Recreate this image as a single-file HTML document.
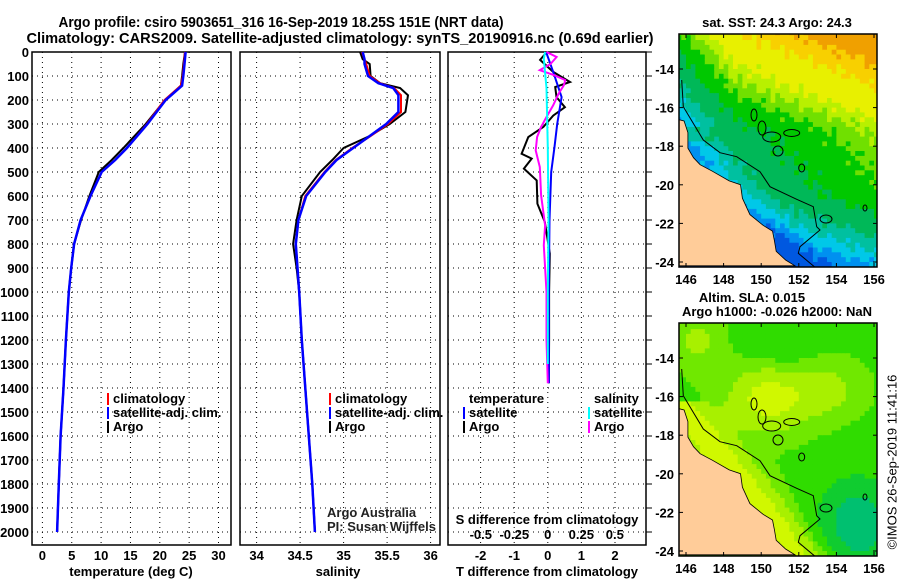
<!DOCTYPE html>
<html><head><meta charset="utf-8">
<style>
html,body{margin:0;padding:0;background:#fff;}
svg{display:block;font-family:"Liberation Sans",sans-serif;}
.t{font-weight:bold;font-size:13px;fill:#000;}
.ti{font-weight:bold;font-size:15px;fill:#000;}
.g{stroke:#000;stroke-width:1;stroke-dasharray:1 4;}
</style></head>
<body>
<svg id="s" width="900" height="580" viewBox="0 0 900 580" xmlns="http://www.w3.org/2000/svg">
<text class="ti" x="281" y="27" text-anchor="middle" textLength="445" lengthAdjust="spacingAndGlyphs">Argo profile: csiro 5903651_316 16-Sep-2019 18.25S 151E (NRT data)</text>
<text class="ti" x="340" y="43" text-anchor="middle" textLength="627" lengthAdjust="spacingAndGlyphs">Climatology: CARS2009. Satellite-adjusted climatology: synTS_20190916.nc (0.69d earlier)</text>
<g id="panels"></g>
<g id="maps"></g>
<text x="893" y="462" font-size="13" transform="rotate(-90 893 462)" text-anchor="middle" dominant-baseline="middle">©IMOS 26-Sep-2019 11:41:16</text>
</svg>
<script>
// ---------- data ----------
const depthTicks = [0,100,200,300,400,500,600,700,800,900,1000,1100,1200,1300,1400,1500,1600,1700,1800,1900,2000];
const tempTicks = [0,5,10,15,20,25,30];
const salTicks = [34,34.5,35,35.5,36];
const salTickLabels = ["34","34.5","35","35.5","36"];
const tdiffTicks = [-2,-1,0,1,2];
const sdiffTicks = [-0.5,-0.25,0,0.25,0.5];
const sdiffTickLabels = ["-0.5","-0.25","0","0.25","0.5"];

const tempDepth = [0,50,100,140,200,300,400,450,500,600,700,800,900,1000,1200,1400,1600,1800,2000];
const tempArgo = [24.3,24.0,23.8,23.6,20.9,17.6,13.8,11.8,9.6,8.0,6.6,5.4,4.9,4.5,4.0,3.6,3.1,2.8,2.5];
const tempClim = [24.3,24.1,23.9,23.6,20.8,17.8,14.4,12.4,10.1,8.2,6.5,5.4,4.9,4.5,4.0,3.6,3.1,2.8,2.5];
const tempSat  = [24.4,24.2,24.0,23.8,21.0,17.9,14.4,12.4,10.1,8.2,6.5,5.4,4.9,4.5,4.0,3.6,3.1,2.8,2.5];

const salDepth = [0,30,50,100,130,150,180,250,300,350,400,450,500,600,700,800,900,1000,1200,1400,1600,1800,2000];
const salArgo = [35.19,35.22,35.30,35.31,35.42,35.65,35.74,35.71,35.53,35.30,35.00,34.87,34.73,34.52,34.46,34.42,34.46,34.49,34.52,34.56,34.60,34.64,34.67];
const salClim = [35.21,35.24,35.26,35.30,35.42,35.58,35.66,35.66,35.51,35.31,35.10,34.91,34.78,34.56,34.48,34.45,34.47,34.49,34.52,34.56,34.60,34.64,34.67];
const salSat  = [35.22,35.24,35.24,35.28,35.40,35.57,35.63,35.63,35.49,35.30,35.11,34.92,34.79,34.57,34.48,34.45,34.47,34.49,34.52,34.56,34.60,34.64,34.67];

const tdArgoDepth = [0,33,83,125,146,188,230,265,312,354,424,444,486,535,632,708,840,1000,1200,1380];
const tdArgo = [-0.03,-0.23,0.16,0.66,0.22,0.26,0.51,0.16,-0.13,-0.58,-0.78,-0.48,-0.71,-0.33,-0.31,-0.09,0.06,0.04,0.04,0.03];
const tdSatDepth = [0,83,188,300,396,500,700,1000,1380];
const tdSat = [-0.05,0.16,0.41,0.28,0.2,0.1,0.05,0.03,0.03];
const sdArgoDepth = [0,21,50,76,97,117,138,174,222,271,312,354,410,479,597,722,805,1000,1200,1380];
const sdArgo = [-0.01,0.066,0.02,-0.06,0.05,0.13,0.12,0.08,0.04,-0.01,-0.05,-0.08,-0.09,-0.06,-0.05,-0.02,-0.03,-0.01,-0.01,0.0];
const sdSatDepth = [0,28,150,400,700,1000,1300];
const sdSat = [-0.02,-0.03,-0.01,0.0,0.005,0.0,0.0];

// ---------- helpers ----------
const NS="http://www.w3.org/2000/svg";
function mk(tag, attrs, parent, txt){const e=document.createElementNS(NS,tag);for(const k in attrs)e.setAttribute(k,attrs[k]);if(txt!==undefined)e.textContent=txt;parent.appendChild(e);return e;}
const yD = d => 52 + d*0.24;
const TOP=52, BOT=545;
const P = document.getElementById('panels');

function frame(x0,x1,name){
  const r=mk('rect',{x:x0,y:TOP,width:x1-x0,height:BOT-TOP,fill:'none',stroke:'#000','stroke-width':1.5},P);
  
  
  depthTicks.forEach(d=>{
    const l=mk('line',{x1:x0,x2:x1,y1:yD(d),y2:yD(d),class:'g'},P);
    
    
  });
}
function vgrid(xs,name){
  xs.forEach(x=>{
    const l=mk('line',{x1:x,x2:x,y1:TOP,y2:BOT,class:'g'},P);
    
    
  });
}
function series(depths,vals,xf,color,name,w){
  const pts=depths.map((d,i)=>xf(vals[i]).toFixed(1)+','+yD(d).toFixed(1)).join(' ');
  const pl=mk('polyline',{points:pts,fill:'none',stroke:color,'stroke-width':w||2,'stroke-linejoin':'miter'},P);
  
  
}
function label(x,y,txt,name,anchor,cls){
  const t=mk('text',{x:x,y:y,class:cls||'t','text-anchor':anchor||'middle'},P,txt);
  
  
  return t;
}
function legend(x,y,color,txt,name){
  const l=mk('rect',{x:x-6,y:y-10,width:2,height:12,fill:color},P);
  
  
  label(x,y,txt,name,'start');
}

depthTicks.forEach(d=>{ label(29,yD(d)+5,String(d),'depth-tick-label','end'); });

// ---------- panel 1: temperature ----------
const xT = v => 42.4 + v*5.87;
frame(32,231,'temperature-panel');
vgrid(tempTicks.map(xT),'temperature');
tempTicks.forEach(v=>label(xT(v),560,String(v),'temperature-tick-label'));
label(131,576,'temperature (deg C)','temperature-axis-title');
series(tempDepth,tempArgo,xT,'#000','temperature-argo-line');
series(tempDepth,tempClim,xT,'#f00','temperature-climatology-line');
series(tempDepth,tempSat,xT,'#00f','temperature-satellite-line',2.5);
legend(113,403,'#f00','climatology','legend-climatology');
legend(113,417,'#00f','satellite-adj. clim.','legend-satellite-adj');
legend(113,431,'#000','Argo','legend-argo');

// ---------- panel 2: salinity ----------
const xS = v => 256.6 + (v-34)*87;
frame(240,440,'salinity-panel');
vgrid(salTicks.map(xS),'salinity');
salTicks.forEach((v,i)=>label(xS(v),560,salTickLabels[i],'salinity-tick-label'));
label(338,576,'salinity','salinity-axis-title');
series(salDepth,salArgo,xS,'#000','salinity-argo-line');
series(salDepth,salClim,xS,'#f00','salinity-climatology-line');
series(salDepth,salSat,xS,'#00f','salinity-satellite-line',2.5);
legend(335,403,'#f00','climatology','legend-climatology-s');
legend(335,417,'#00f','satellite-adj. clim.','legend-satellite-adj-s');
legend(335,431,'#000','Argo','legend-argo-s');
label(327,517,'Argo Australia','credit-line-1','start','').setAttribute('style','font-size:13px;fill:#222');
label(327,531,'PI: Susan Wijffels','credit-line-2','start','').setAttribute('style','font-size:13px;fill:#222');

// ---------- panel 3: differences ----------
const xTD = v => 547.8 + v*33.6;
const xSD = v => 547.8 + v*134;
frame(448,646,'difference-panel');
vgrid(tdiffTicks.map(xTD),'difference');
depthTicks.forEach(d=>{ const l=mk('line',{x1:646,x2:652,y1:yD(d),y2:yD(d),stroke:'#000'},P);
  
  });
tdiffTicks.forEach(v=>label(xTD(v),560,String(v),'tdiff-tick-label'));
label(547,576,'T difference from climatology','tdiff-axis-title');
sdiffTicks.forEach((v,i)=>label(xSD(v),539,sdiffTickLabels[i],'sdiff-tick-label'));
label(547,524,'S difference from climatology','sdiff-axis-title');
series(tdArgoDepth,tdArgo,xTD,'#000','tdiff-argo-line');
series(tdSatDepth,tdSat,xTD,'#00f','tdiff-satellite-line');
series(sdArgoDepth,sdArgo,xSD,'#f0f','sdiff-argo-line');
series(sdSatDepth,sdSat,xSD,'#0ff','sdiff-satellite-line');
label(469,403,'temperature','legend-temperature-heading','start');
legend(469,417,'#00f','satellite','legend-tdiff-satellite');
legend(469,431,'#000','Argo','legend-tdiff-argo');
label(594,403,'salinity','legend-salinity-heading','start');
legend(594,417,'#0ff','satellite','legend-sdiff-satellite');
legend(594,431,'#f0f','Argo','legend-sdiff-argo');

// ---------- maps (decorative fields) ----------
const M = document.getElementById('maps');
const lonX = lon => 686 + (lon-146)*18.8;
const latY = (lat,dy) => 69 + dy + (-14-lat)*19.3;
function coastLon(lat){return 146 + (-17-lat)*0.85;}
function sstT(lon,lat){
  let t = lat>-17 ? 0.42+0.08*(lat+17) : 0.42+0.03*(lat+17);
  t += 0.03*(lon-150) - 0.06*Math.max(0,148.5-lon)*(lat>-17?1:0.3);
  t -= 0.065*Math.max(0,-(lat+20.5));
  const dc=lon-coastLon(lat); if(lat<-17.5 && dc<1.8) t-=0.08*(1.8-dc)/1.8;
  t+=0.035*Math.sin(lon*7.3+lat*3.1)*Math.cos(lat*5.7);
  return t;
}
function sstColor(t){
  if(t<0.08)return '#0058e0'; if(t<0.15)return '#0090f0'; if(t<0.22)return '#00c8e8';
  if(t<0.3)return '#00c0a0'; if(t<0.42)return '#00b858'; if(t<0.52)return '#00c800';
  if(t<0.58)return '#70e000'; if(t<0.64)return '#b8f000'; if(t<0.78)return '#e8f000';
  if(t<0.86)return '#f8d000'; return '#f0a000';
}
function slaT(lon,lat){
  let t=0.5+0.3*Math.exp(-((lon-150.3)**2/5+(lat+16)**2/3));
  t+=0.15*Math.exp(-((lon-153.5)**2/3+(lat+15.5)**2/2));
  t+=0.15*Math.exp(-((lon-146.5)**2/1.5+(lat+13)**2/2));
  const dc=lon-coastLon(lat); if(lat<-16) t+=0.3*Math.exp(-dc*dc/2.5);
  t-=0.35*Math.exp(-((lon-155)**2/5+(lat+22.5)**2/6));
  t-=0.12*Math.exp(-((lon-151)**2/3+(lat+13)**2/1.5));
  return t;
}
function slaColor(t){
  if(t<0.25)return '#00c070'; if(t<0.38)return '#10cc30'; if(t<0.52)return '#30dc00';
  if(t<0.62)return '#70e800'; if(t<0.74)return '#a8f000'; return '#d0f800';
}
const coast=[[145.5,-16.7],[145.9,-16.8],[146.1,-17.4],[146.1,-18.2],[146.4,-18.7],[146.75,-19.06],[147.4,-19.4],[148.3,-19.9],[148.9,-20.1],[149.0,-20.8],[149.4,-21.65],[150.1,-22.2],[150.6,-22.5],[150.7,-23.0],[150.8,-23.55],[151.3,-24.0],[151.8,-24.3],[145.5,-24.3]];
const shelf=[[95,240],[100,320],[160,420],[210,458],[260,470],[330,515],[360,560],[440,598],[490,620],[500,680],[510,690],[450,740],[445,760],[495,802]];
function drawMap(dy,fieldT,colorF,name){
  const g=mk('g',{},M);
  
  
  const cid='clip'+dy;
  const cp=mk('clipPath',{id:cid},g); mk('rect',{x:679,y:34+dy,width:198,height:233},cp);
  const inner=mk('g',{'clip-path':'url(#'+cid+')'},g);
  const step=0.25;
  for(let lon=145.5;lon<156.3;lon+=step){
    for(let lat=-12;lat>-24.5;lat-=step){
      const x=lonX(lon), y=latY(lat,dy);
      mk('rect',{x:x.toFixed(1),y:y.toFixed(1),width:(step*18.8+0.6).toFixed(1),height:(step*19.3+0.6).toFixed(1),fill:colorF(fieldT(lon,lat))},inner);
    }
  }
  const land=mk('polygon',{points:coast.map(p=>lonX(p[0]).toFixed(1)+','+(latY(p[1],dy)-2).toFixed(1)).join(' '),fill:'#ffcc99',stroke:'#000','stroke-width':0.8},inner);
  
  
  mk('polyline',{points:shelf.map(p=>(650+p[0]/3).toFixed(1)+','+(p[1]/3+dy).toFixed(1)).join(' '),fill:'none',stroke:'#000','stroke-width':1},inner);
  [[778,151,5,5],[801.7,168,3,4],[771.7,137,9,5],[791.7,133,8,3.5],[754,115,3,6],[762,128,4,7],[826,219,6,4],[865,208,2,3]].forEach(e=>
    mk('ellipse',{cx:e[0],cy:e[1]+dy,rx:e[2],ry:e[3],fill:'none',stroke:'#000','stroke-width':1},inner));
  const fr=mk('rect',{x:679,y:34+dy,width:198,height:233,fill:'none',stroke:'#000','stroke-width':1.5},g);
  
  
  [146,148,150,152,154,156].forEach(lon=>{
    mk('line',{x1:lonX(lon),x2:lonX(lon),y1:34+dy,y2:38+dy,stroke:'#000'},g);
    mk('line',{x1:lonX(lon),x2:lonX(lon),y1:263+dy,y2:267+dy,stroke:'#000'},g);
    const t=mk('text',{x:lonX(lon),y:284+dy,class:'t','text-anchor':'middle'},g,String(lon));
    
    
  });
  [-14,-16,-18,-20,-22,-24].forEach(lat=>{
    mk('line',{x1:679,x2:683,y1:latY(lat,dy),y2:latY(lat,dy),stroke:'#000'},g);
    mk('line',{x1:873,x2:877,y1:latY(lat,dy),y2:latY(lat,dy),stroke:'#000'},g);
    const t=mk('text',{x:674,y:latY(lat,dy)+5,class:'t','text-anchor':'end'},g,String(lat));
    
    
  });
}
drawMap(0,sstT,sstColor,'sst-map');
drawMap(289,slaT,slaColor,'sla-map');
[['sat. SST: 24.3 Argo: 24.3',777,27,'sst-map-title'],['Altim. SLA: 0.015',752,302,'sla-map-title'],['Argo h1000: -0.026 h2000: NaN',777,316,'sla-map-subtitle']].forEach(a=>{
  const t=mk('text',{x:a[1],y:a[2],class:'t','text-anchor':'middle'},M,a[0]);
  
  
});
</script>
</body></html>
